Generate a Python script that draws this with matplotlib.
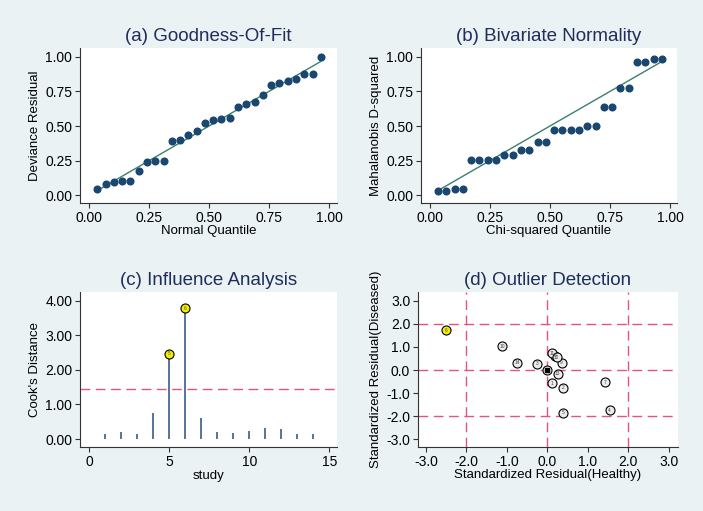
import matplotlib
matplotlib.use("Agg")
import matplotlib.pyplot as plt
import numpy as np

# (a) goodness of fit: deviance residual quantiles
dev_resid = [0.046, 0.084, 0.094, 0.103, 0.103, 0.173, 0.238, 0.245, 0.245,
             0.392, 0.401, 0.433, 0.462, 0.522, 0.541, 0.548, 0.555, 0.639,
             0.659, 0.673, 0.721, 0.793, 0.813, 0.827, 0.839, 0.873, 0.875, 1.0]

# (b) bivariate normality: Mahalanobis D-squared
maha_d2 = [0.034, 0.034, 0.043, 0.043, 0.252, 0.252, 0.257, 0.257, 0.288,
           0.288, 0.325, 0.325, 0.385, 0.385, 0.471, 0.471, 0.471, 0.471,
           0.502, 0.502, 0.637, 0.637, 0.776, 0.776, 0.959, 0.959, 0.986, 0.986]

# (c) influence analysis: Cook's distance per study
studies = list(range(1, 15))
cooks_d = [0.145, 0.20, 0.145, 0.75, 2.47, 3.78, 0.61, 0.21, 0.18, 0.24,
           0.33, 0.28, 0.135, 0.145]
cooks_cut = 1.436
influential = [5, 6]

# (d) outlier detection: standardized residuals
out_labels = ["1", "2", "3", "4", "5", "6", "7", "8", "9", "10", "11", "12", "13", "14"]
resid_healthy = [0.12, 0.39, -0.25, 1.54, 0.39, -2.50, 1.43, 0.19, 0.35, -1.11, 0.12, 0.23, 0.25, -0.74]
resid_diseased = [-0.58, -0.76, 0.27, -1.73, -1.85, 1.72, -0.52, 0.62, 0.32, 1.02, 0.72, 0.55, -0.16, 0.32]
outliers = ["6"]

BG = "#eaf2f3"
NAVY = "#1a476f"
FIT = "#3a806f"
PINK = "#e2547e"
TITLE = "#1f2d5c"

plt.rcParams["font.family"] = ["Liberation Sans", "DejaVu Sans"]
plt.rcParams["font.size"] = 9.5

W, H = 703, 511
fig = plt.figure(figsize=(W / 100, H / 100), dpi=100, facecolor=BG)


def make_ax(left, top, right, bottom):
    ax = fig.add_axes([left / W, 1 - bottom / H, (right - left) / W, (bottom - top) / H])
    ax.set_facecolor("white")
    for side in ("top", "right"):
        ax.spines[side].set_visible(False)
    for side in ("left", "bottom"):
        ax.spines[side].set_color("#333333")
        ax.spines[side].set_linewidth(0.8)
    ax.tick_params(direction="out", length=3.6, width=0.8, color="#333333",
                   labelsize=10, pad=2)
    return ax


def title(ax, text):
    ax.set_title(text, fontsize=13.5, color=TITLE, pad=5)


# (a)
ax = make_ax(80, 48, 337, 203)
q = np.arange(1, len(dev_resid) + 1) / (len(dev_resid) + 1)
ax.plot([q[0], q[-1]], [q[0], q[-1]], color=FIT, lw=1.0, zorder=2)
ax.plot(q, dev_resid, "o", color=NAVY, ms=4.8, zorder=3)
ax.set_xlim(-0.0375, 1.033)
ax.set_ylim(-0.055, 1.0625)
ticks = [0, 0.25, 0.5, 0.75, 1.0]
ax.set_xticks(ticks, [f"{t:.2f}" for t in ticks])
ax.set_yticks(ticks, [f"{t:.2f}" for t in ticks])
ax.set_xlabel("Normal Quantile", labelpad=0)
ax.set_ylabel("Deviance Residual", labelpad=3)
title(ax, "(a) Goodness-Of-Fit")

# (b)
ax = make_ax(421, 48, 677, 203)
q = np.arange(1, len(maha_d2) + 1) / (len(maha_d2) + 1)
ax.plot([q[0], q[-1]], [q[0], q[-1]], color=FIT, lw=1.0, zorder=2)
ax.plot(q, maha_d2, "o", color=NAVY, ms=4.8, zorder=3)
ax.set_xlim(-0.036, 1.028)
ax.set_ylim(-0.055, 1.0625)
ax.set_xticks(ticks, [f"{t:.2f}" for t in ticks])
ax.set_yticks(ticks, [f"{t:.2f}" for t in ticks])
ax.set_xlabel("Chi-squared Quantile", labelpad=0)
ax.set_ylabel("Mahalanobis D-squared", labelpad=3)
title(ax, "(b) Bivariate Normality")

# (c)
ax = make_ax(80, 291.7, 337, 447)
ax.vlines(studies, 0, cooks_d, color="#55759a", lw=1.4, zorder=2)
ax.axhline(cooks_cut, color=PINK, lw=1.0, dashes=(7, 4), zorder=1)
for s, d in zip(studies, cooks_d):
    if s in influential:
        ax.plot(s, d, "o", ms=6.5, mfc="#f4ee00", mec="black", mew=0.8, zorder=3)
        ax.text(s, d, str(s), fontsize=3.5, ha="center", va="center", color="#555500", zorder=4)
ax.set_xlim(-0.58, 15.48)
ax.set_ylim(-0.23, 4.26)
ax.set_xticks([0, 5, 10, 15])
yt = [0, 1, 2, 3, 4]
ax.set_yticks(yt, [f"{t:.2f}" for t in yt])
ax.set_xlabel("study", labelpad=1)
ax.set_ylabel("Cook's Distance", labelpad=3)
title(ax, "(c) Influence Analysis")

# (d)
ax = make_ax(418, 291.7, 677.7, 447)
for v in (-2, 0, 2):
    ax.axvline(v, color=PINK, lw=1.0, dashes=(7, 4), zorder=1)
    ax.axhline(v, color=PINK, lw=1.0, dashes=(7, 4), zorder=1)
for lab, x, y in zip(out_labels, resid_healthy, resid_diseased):
    fc = "#f4ee00" if lab in outliers else "#ececec"
    ax.plot(x, y, "o", ms=6.5, mfc=fc, mec="black", mew=0.8, zorder=3)
    ax.text(x, y, lab, fontsize=3.5, ha="center", va="center", color="#444444", zorder=4)
ax.plot(0, 0, "o", ms=6.5, mfc="#ececec", mec="black", mew=0.8, zorder=3)
ax.plot(0, 0, "s", ms=2.5, color="black", zorder=4)
ax.set_xlim(-3.198, 3.22)
ax.set_ylim(-3.33, 3.39)
dt = [-3, -2, -1, 0, 1, 2, 3]
ax.set_xticks(dt, [f"{t:.1f}".replace("-", "\u2212") if False else f"{t:.1f}" for t in dt])
ax.set_yticks(dt, [f"{t:.1f}" for t in dt])
ax.set_xlabel("Standardized Residual(Healthy)", labelpad=0)
ax.set_ylabel("Standardized Residual(Diseased)", labelpad=3)
title(ax, "(d) Outlier Detection")

fig.savefig("out.png", dpi=100, facecolor=BG)
